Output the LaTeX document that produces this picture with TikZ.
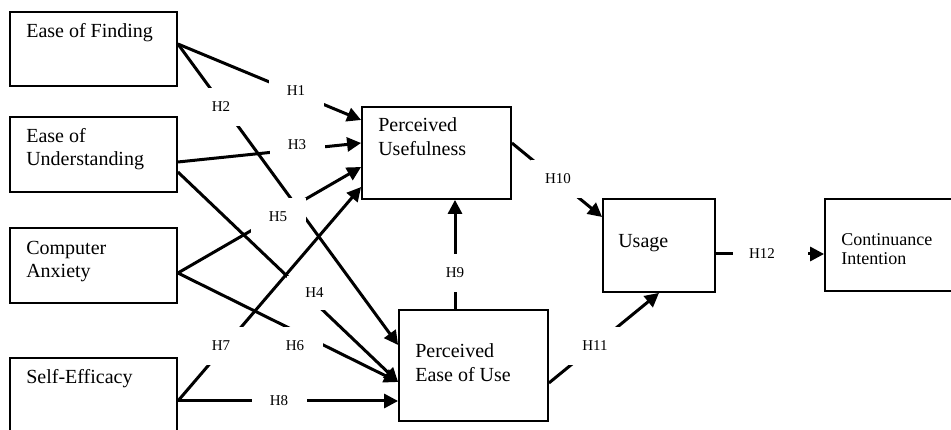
\documentclass[tikz,border=0pt]{standalone}
\usepackage{fontspec}
\setmainfont{Liberation Serif}
\usetikzlibrary{arrows.meta}

\begin{document}
\begin{tikzpicture}[x=1pt, y=-1pt,
    box/.style={draw, line width=1.8pt, inner sep=0pt},
    txt/.style={inner sep=0pt, align=left, anchor=base west, font=\fontsize{20}{23.5}\selectfont},
    hyp/.style={fill=white, inner sep=0pt, minimum width=55pt, minimum height=38pt, font=\fontsize{15}{18}\selectfont},
    arr/.style={line width=3pt, -{Triangle[length=14pt, width=14pt]}}]
    \useasboundingbox (0,0) rectangle (951,430);

    % Constructs
    \node[box, minimum width=167pt, minimum height=74pt] (ef) at (93.5,49) {};
    \node[box, minimum width=167pt, minimum height=75pt] (eu) at (93.5,154.5) {};
    \node[box, minimum width=167pt, minimum height=75pt] (ca) at (93.5,265.5) {};
    \node[box, minimum width=167pt, minimum height=86pt] (se) at (93.5,401) {}; % runs off the bottom
    \node[box, minimum width=149pt, minimum height=92pt] (pu) at (436.5,153) {};
    \node[box, minimum width=149pt, minimum height=111pt] (peu) at (473.5,365.5) {};
    \node[box, minimum width=112pt, minimum height=93pt] (use) at (659,245.5) {};
    \node[box, minimum width=140pt, minimum height=92pt] (ci) at (895,245) {}; % runs off the right

    % base = last line, so two-line texts go one line lower
    \node[txt] (ef-t) at ([xshift=17pt, yshift=-26pt]ef.north west) {Ease of Finding};
    \node[txt] (eu-t) at ([xshift=17pt, yshift=-49.5pt]eu.north west) {Ease of\\Understanding};
    \node[txt] (ca-t) at ([xshift=17pt, yshift=-50.5pt]ca.north west) {Computer\\Anxiety};
    \node[txt] (se-t) at ([xshift=17pt, yshift=-26.5pt]se.north west) {Self-Efficacy};
    \node[txt] (pu-t) at ([xshift=17pt, yshift=-49pt]pu.north west) {Perceived\\Usefulness};
    \node[txt] (peu-t) at ([xshift=17pt, yshift=-72pt]peu.north west) {Perceived\\Ease of Use};
    \node[txt] (use-t) at ([xshift=16pt, yshift=-49.5pt]use.north west) {Usage};
    \node[txt, font=\fontsize{18}{19}\selectfont] (ci-t) at ([xshift=17pt, yshift=-66pt]ci.north west) {Continuance\\Intention};

    % Hypotheses
    \draw[arr] ([yshift=5pt]ef.east) -- ([yshift=33pt]pu.west); % H1
    \draw[arr] ([yshift=5pt]ef.east) -- ([yshift=20.5pt]peu.west); % H2
    \draw[arr] ([yshift=-7.5pt]eu.east) -- ([yshift=10pt]pu.west); % H3
    \draw[arr] ([yshift=-17.5pt]eu.east) -- ([yshift=-16.5pt]peu.west); % H4
    \draw[arr] ([yshift=-7.5pt]ca.east) -- ([yshift=-14pt]pu.west); % H5
    \draw[arr] ([yshift=-7.5pt]ca.east) -- ([yshift=-16.5pt]peu.west); % H6
    \draw[arr] (se.east) -- ([yshift=-34pt]pu.west); % H7
    \draw[arr] (se.east) -- ([yshift=-35.5pt]peu.west); % H8
    \draw[arr] ([xshift=-18.5pt]peu.north) -- ([xshift=18.5pt]pu.south); % H9
    \draw[arr] ([yshift=10pt]pu.east) -- ([yshift=28.5pt]use.west); % H10
    \draw[arr] ([yshift=-17.5pt]peu.east) -- (use.south); % H11
    \draw[arr] ([yshift=-8.5pt]use.east) -- ([yshift=-9pt]ci.west); % H12

    % Labels sit on top and break the lines
    \node[hyp] (h1) at (296,91) {H1};
    \node[hyp] (h2) at (221,107) {H2};
    \node[hyp] (h3) at (297,145) {H3};
    \node[hyp, minimum height=34pt] (h4) at (314.5,293) {H4};
    \node[hyp] (h5) at (278,217) {H5};
    \node[hyp] (h6) at (295,346) {H6};
    \node[hyp] (h7) at (221,346) {H7};
    \node[hyp] (h8) at (279,401) {H8};
    \node[hyp] (h9) at (455,273) {H9};
    \node[hyp] (h10) at (558,179) {H10};
    \node[hyp] (h11) at (595,346) {H11};
    \node[hyp, text width=43pt, inner xsep=16pt, align=left] (h12) at (770.5,254) {H12};
\end{tikzpicture}
\end{document}
